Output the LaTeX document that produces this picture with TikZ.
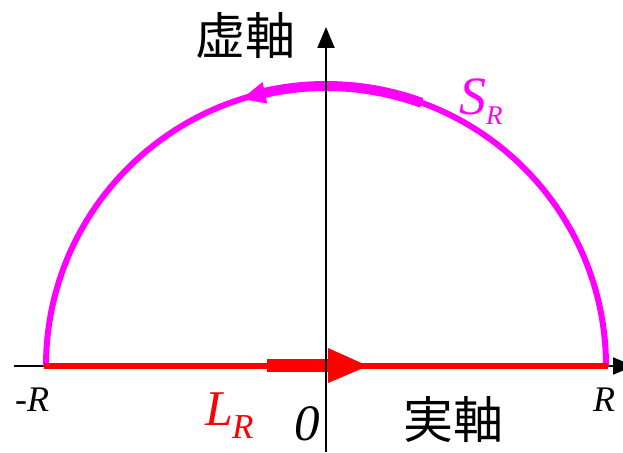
\documentclass[tikz,border=0pt]{standalone}
\usepackage{fontspec}
\setmainfont{Liberation Serif}
\newfontfamily\cjk{Noto Sans CJK JP}
\usetikzlibrary{arrows.meta,calc}
\definecolor{mag}{RGB}{255,0,255}
\definecolor{rd}{RGB}{255,0,0}
\begin{document}
\begin{tikzpicture}[x=1pt,y=1pt,
  axis/.style={line width=2pt,-{Triangle[length=21pt,width=17pt]}},
  lbl/.style={inner sep=0pt,anchor=base west},
  jlbl/.style={inner sep=0pt,anchor=center,font=\cjk\fontsize{50}{50}\selectfont}]
\useasboundingbox (0,0) rectangle (623,452);
\clip (0,0) rectangle (623,452);
\coordinate (c) at (326,86);
\coordinate (xs) at (14,86);
\coordinate (xe) at (634,86);
\coordinate (ys) at (326,0);
\coordinate (ye) at (326,425);
% horizontal axis
\draw[axis] (xs) -- (xe);
% semicircle S_R
\draw[mag,line width=6pt] ([shift={(c)}]180:280) arc[start angle=180,end angle=0,radius=280];
\draw[mag,line width=10pt] ([shift={(c)}]102.6:280) arc[start angle=102.6,end angle=70,radius=280];
\fill[mag] ([shift={(c)}]107.5:280) -- ([shift={(c)}]102.6:291) -- ([shift={(c)}]102.6:269) -- cycle;
% segment L_R
\coordinate (l0) at (44,86);
\coordinate (l1) at (608,86);
\draw[rd,line width=6pt] (l0) -- (l1);
\draw[rd,line width=13pt] (267,86) -- (330,86);
\fill[rd] (328,104) -- (328,69) -- (368,86) -- cycle;
% vertical axis
\draw[axis] (ys) -- (ye);
% labels
\node[jlbl] (im) at (245,416) {虚軸};
\node[jlbl] (re) at (453,32) {実軸};
\node[lbl,text=mag] (S) at (459,337) {\fontsize{54}{54}\selectfont\itshape S};
\node[lbl,text=mag] (Ssub) at (486,327) {\fontsize{27}{27}\selectfont\itshape R};
\node[lbl,text=rd] (L) at (205,27) {\fontsize{50}{50}\selectfont\itshape L};
\node[lbl,text=rd] (Lsub) at (232,14) {\fontsize{35}{35}\selectfont\itshape R};
\node[lbl] (mR) at (15,40) {\fontsize{36}{36}\selectfont\itshape -R};
\node[lbl] (pR) at (593,41) {\fontsize{36}{36}\selectfont\itshape R};
\node[lbl] (zero) at (294,12) {\fontsize{51}{51}\selectfont\itshape 0};
\end{tikzpicture}
\end{document}
